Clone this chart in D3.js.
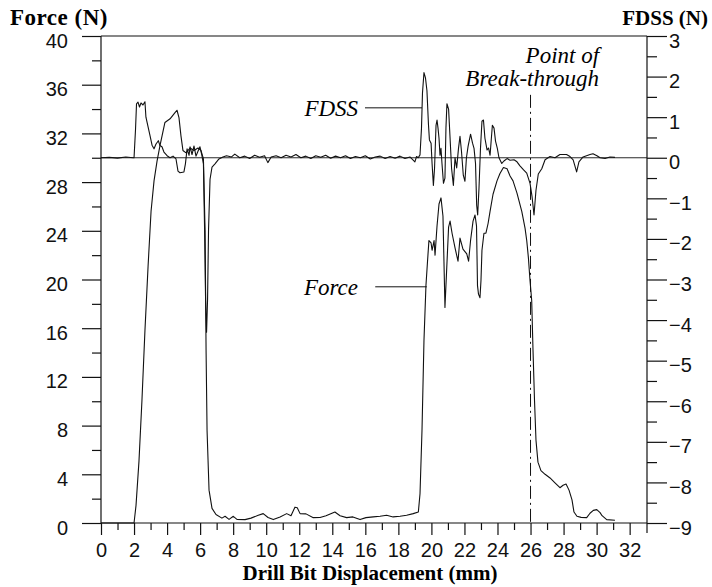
<!DOCTYPE html>
<html>
<head>
<meta charset="utf-8">
<script src="https://cdn.jsdelivr.net/npm/d3@7"></script>
<style>
  body { margin: 0; background: #fff; }
  .num { font-family: "Liberation Sans", Arial, sans-serif; font-size: 20px; }
  .ttl { font-family: "Liberation Serif", "Times New Roman", serif; font-weight: bold; font-size: 21px; }
  .note { font-family: "Liberation Serif", "Times New Roman", serif; font-style: italic; font-size: 23px; }
</style>
</head>
<body>
<div id="container"></div>
<script>
//Force (N) against drill bit displacement (mm)
const forceData = [
  [0, 0], [2.0, 0], [2.12, 1.45], [2.3, 5.1], [2.48, 10.1], [2.66, 15.8], [2.85, 21.1],
  [3.03, 25.6], [3.21, 28.1], [3.39, 29.7], [3.57, 31.0], [3.87, 32.9], [4.18, 33.2],
  [4.48, 33.7], [4.6, 33.9], [4.72, 33.3], [4.84, 31.8], [4.96, 30.6], [5.15, 30.4],
  [5.39, 30.8], [5.63, 30.6], [5.87, 30.8], [6.05, 30.6], [6.2, 29.9], [6.3, 24.0],
  [6.36, 14.2], [6.42, 7.6], [6.54, 2.7], [6.72, 1.2], [6.96, 0.7], [7.32, 0.4],
  [7.51, 0.55], [7.75, 0.3], [8.01, 0.55], [8.23, 0.3], [8.72, 0.28], [9.08, 0.4],
  [9.52, 0.63], [9.82, 0.77], [10.11, 0.45], [10.43, 0.28], [10.84, 0.5], [11.24, 0.77],
  [11.5, 0.6], [11.74, 1.3], [11.88, 1.25], [12.05, 0.77], [12.41, 0.75], [12.85, 0.44],
  [13.26, 0.45], [13.62, 0.6], [14.16, 0.9], [14.47, 0.6], [14.87, 0.44], [15.25, 0.5],
  [15.68, 0.28], [16.04, 0.44], [16.48, 0.5], [16.89, 0.55], [17.29, 0.63], [17.68, 0.5],
  [18.1, 0.55], [18.5, 0.63], [18.9, 0.77], [19.21, 0.9], [19.31, 2.4], [19.43, 7.6],
  [19.55, 15.0], [19.67, 19.5], [19.76, 21.4], [19.85, 23.2], [19.98, 23.0], [20.04, 22.4],
  [20.16, 23.2], [20.22, 22.0], [20.34, 24.4], [20.46, 26.2], [20.58, 26.7], [20.7, 25.2],
  [20.82, 17.7], [20.93, 21.0], [21.04, 24.3], [21.13, 24.8], [21.25, 23.8], [21.43, 22.6],
  [21.61, 21.5], [21.73, 23.4], [21.91, 22.5], [22.14, 22.1], [22.25, 21.5], [22.37, 23.2],
  [22.52, 24.8], [22.64, 25.3], [22.73, 24.4], [22.79, 19.5], [22.85, 18.8], [22.94, 18.5],
  [23.0, 19.9], [23.06, 22.4], [23.18, 23.8], [23.3, 23.8], [23.43, 24.6], [23.55, 25.6],
  [23.73, 27.0], [23.97, 28.1], [24.15, 28.7], [24.36, 29.2], [24.58, 29.1], [24.76, 28.5],
  [24.94, 28.1], [25.18, 27.1], [25.47, 25.6], [25.67, 24.2], [25.77, 23.2], [25.87, 21.8],
  [25.97, 19.9], [26.07, 18.3], [26.15, 14.2], [26.24, 10.1], [26.33, 6.8], [26.45, 5.0],
  [26.63, 4.3], [26.88, 4.0], [27.18, 3.7], [27.48, 3.3], [27.78, 2.9], [27.97, 3.1],
  [28.15, 3.2], [28.33, 2.7], [28.51, 1.9], [28.63, 0.9], [28.81, 0.55], [29.06, 0.46],
  [29.4, 0.44], [29.6, 0.8], [29.8, 1.04], [30.01, 1.1], [30.21, 0.85], [30.33, 0.6],
  [30.61, 0.28], [31.11, 0.22]
];

//FDSS (N) against drill bit displacement (mm)
const fdssData = [
  [0, 0], [0.5, 0.01], [1.0, -0.01], [1.5, 0.02], [1.95, 0], [2.0, 0], [2.09, 0.7],
  [2.15, 1.33], [2.24, 1.37], [2.33, 1.25], [2.42, 1.35], [2.54, 1.3], [2.66, 1.38],
  [2.72, 1.0], [2.85, 0.76], [2.97, 0.54], [3.09, 0.31], [3.21, 0.22], [3.33, 0.34],
  [3.47, 0.42], [3.57, 0.3], [3.69, 0.27], [3.81, 0.14], [4.0, 0.05], [4.18, 0],
  [4.36, 0.04], [4.54, -0.03], [4.66, -0.33], [4.78, -0.37], [5.02, -0.35], [5.11, -0.15],
  [5.21, 0.22], [5.33, 0.06], [5.39, 0.27], [5.51, 0.08], [5.63, 0.29], [5.75, 0.04],
  [5.87, 0.16], [5.99, 0.27], [6.11, 0.05], [6.2, -0.15], [6.27, -1.76], [6.33, -3.5],
  [6.39, -4.3], [6.45, -3.5], [6.51, -1.76], [6.6, -0.53], [6.72, -0.23], [6.9, -0.15],
  [7.14, -0.03], [7.38, 0.02], [7.6, 0.05], [7.9, 0.02], [8.1, 0.09], [8.4, 0.0],
  [8.7, 0.04], [9.0, -0.02], [9.3, 0.06], [9.6, 0.01], [9.9, 0.05], [10.1, -0.12],
  [10.3, 0.02], [10.6, 0.05], [10.9, 0.0], [11.2, 0.06], [11.5, 0.02], [11.8, 0.08],
  [12.1, 0.0], [12.4, 0.04], [12.7, -0.02], [13.0, 0.05], [13.3, 0.01], [13.6, 0.06],
  [13.9, -0.01], [14.2, 0.04], [14.5, 0.0], [14.8, 0.05], [15.1, -0.02], [15.4, 0.03],
  [15.7, 0.0], [16.0, 0.05], [16.3, -0.03], [16.6, 0.02], [16.9, 0.04], [17.2, -0.02],
  [17.5, 0.03], [17.8, -0.01], [18.1, 0.04], [18.4, -0.02], [18.7, 0.02], [19.0, -0.1],
  [19.1, 0.03], [19.2, 0.0], [19.31, 0.07], [19.4, 0.73], [19.46, 1.6], [19.55, 2.1],
  [19.64, 1.97], [19.73, 1.65], [19.82, 0.83], [19.88, 0.44], [19.98, 0.36], [20.04, -0.14],
  [20.12, -0.68], [20.19, -0.26], [20.28, 0.8], [20.34, 0.93], [20.4, 0.73], [20.46, 0.48],
  [20.52, 0.06], [20.58, 0.23], [20.64, -0.14], [20.73, -0.63], [20.82, -0.5], [20.88, 0.73],
  [20.94, 1.33], [21.04, 1.2], [21.13, 0.48], [21.22, -0.26], [21.33, -0.68], [21.43, 0],
  [21.53, -0.25], [21.64, 0.23], [21.73, 0.53], [21.82, 0.16], [21.93, -0.43], [22.03, -0.58],
  [22.12, 0], [22.22, 0.28], [22.37, 0.58], [22.49, 0.36], [22.58, 0.23], [22.67, -0.14],
  [22.74, -1.17], [22.8, -1.41], [22.88, -0.75], [22.97, 0.23], [23.06, 0.9], [23.15, 0.93],
  [23.24, 0.48], [23.37, 0.19], [23.46, 0.24], [23.55, 0.06], [23.69, 0.8], [23.79, 0.73],
  [23.88, 0.41], [23.99, 0.23], [24.09, 0.0], [24.26, -0.14], [24.39, -0.08], [24.58, -0.02],
  [24.76, -0.06], [25.0, -0.05], [25.18, -0.1], [25.36, -0.2], [25.58, -0.3], [25.77, -0.38],
  [25.97, -0.63], [26.09, -0.95], [26.21, -1.41], [26.33, -0.8], [26.47, -0.4], [26.68, -0.27],
  [26.88, -0.05], [27.18, 0.03], [27.48, 0.0], [27.78, 0.08], [28.18, 0.08], [28.39, 0.03],
  [28.58, -0.05], [28.79, -0.35], [28.93, -0.1], [29.18, 0.02], [29.6, 0.08], [29.78, 0.1],
  [30.02, 0.05], [30.21, 0.0], [30.51, -0.02], [30.81, 0.02], [31.11, 0.01]
];

//Ticks
const xTicks = d3.range(0, 33, 2);
const xMinor = d3.range(1, 33, 2);
const forceTicks = d3.range(0, 41, 4);
const forceMinor = d3.range(2, 40, 4);
const fdssTicks = d3.range(-9, 4, 1);
const fdssMinor = d3.range(-8.5, 3, 1);
const breakThrough = 26;

const width = 712;
const height = 587;
const svg = d3.select('#container').append('svg')
    .attr('width', width)
    .attr('height', height)
    .style('background-color', 'white');

const x = d3.scaleLinear().domain([0, 33.05]).range([101, 647]);
const yF = d3.scaleLinear().domain([0, 40]).range([523, 36]);
const yD = d3.scaleLinear().domain([-9, 3]).range([523, 36]);

const ink = '#111';

//style an axis group the same way each time
function styleAxis(g, dy) {
    g.select('.domain').remove();
    g.selectAll('line').attr('stroke', ink).attr('stroke-width', 1.2);
    g.attr('font-family', null).attr('font-size', null);
    g.selectAll('text').attr('class', 'num').attr('fill', ink).attr('dy', dy);
}

//Left axis (Force)
svg.append('g')
    .attr('transform', `translate(${x(0)},0)`)
    .call(d3.axisLeft(yF).tickValues(forceTicks).tickSize(19).tickPadding(14))
    .call(g => styleAxis(g, '0.55em'));
svg.append('g')
    .attr('transform', `translate(${x(0)},0)`)
    .call(d3.axisLeft(yF).tickValues(forceMinor).tickSize(9).tickFormat(''))
    .call(g => styleAxis(g, 0));

//Right axis (FDSS)
svg.append('g')
    .attr('transform', `translate(${x.range()[1]},0)`)
    .call(d3.axisRight(yD).tickValues(fdssTicks).tickSize(20).tickPadding(2))
    .call(g => styleAxis(g, '0.55em'));
svg.append('g')
    .attr('transform', `translate(${x.range()[1]},0)`)
    .call(d3.axisRight(yD).tickValues(fdssMinor).tickSize(10).tickFormat(''))
    .call(g => styleAxis(g, 0));

//Bottom axis
svg.append('g')
    .attr('transform', `translate(0,${yF(0)})`)
    .call(d3.axisBottom(x).tickValues(xTicks).tickSize(12).tickPadding(8))
    .call(g => styleAxis(g, '0.72em'));
svg.append('g')
    .attr('transform', `translate(0,${yF(0)})`)
    .call(d3.axisBottom(x).tickValues(xMinor).tickSize(7).tickFormat(''))
    .call(g => styleAxis(g, 0));

//Frame
const frame = svg.append('g').attr('stroke', ink).attr('stroke-width', 1.2);
frame.append('line')
    .attr('x1', x.range()[0]).attr('x2', x.range()[1])
    .attr('y1', yF(40)).attr('y2', yF(40));
frame.append('line')
    .attr('x1', x.range()[0]).attr('x2', x.range()[1])
    .attr('y1', yF(0)).attr('y2', yF(0));
frame.append('line')
    .attr('x1', x.range()[0]).attr('x2', x.range()[0])
    .attr('y1', yF(40)).attr('y2', yF(0));
frame.append('line')
    .attr('x1', x.range()[1]).attr('x2', x.range()[1])
    .attr('y1', yD(3)).attr('y2', yD(-9) + 10);

//FDSS zero line
svg.append('line')
    .attr('x1', x.range()[0]).attr('x2', x.range()[1])
    .attr('y1', yD(0)).attr('y2', yD(0))
    .attr('stroke', ink).attr('stroke-width', 0.9);

//Point of break-through
svg.append('line')
    .attr('x1', x(breakThrough)).attr('x2', x(breakThrough))
    .attr('y1', yD(1.55)).attr('y2', yF(0))
    .attr('stroke', ink).attr('stroke-width', 1)
    .attr('stroke-dasharray', '13,4,2,4');

//Curves
const forceLine = d3.line().x(d => x(d[0])).y(d => yF(d[1]));
const fdssLine = d3.line().x(d => x(d[0])).y(d => yD(d[1]));

svg.append('path')
    .datum(forceData)
    .attr('d', forceLine)
    .attr('fill', 'none').attr('stroke', ink).attr('stroke-width', 1.1)
    .attr('stroke-linejoin', 'round');

svg.append('path')
    .datum(fdssData)
    .attr('d', fdssLine)
    .attr('fill', 'none').attr('stroke', ink).attr('stroke-width', 1.1)
    .attr('stroke-linejoin', 'round');

//Annotations
svg.append('text').attr('class', 'note')
    .attr('x', x(15.56)).attr('y', yD(1.23) + 8)
    .attr('text-anchor', 'end').text('FDSS');
svg.append('line')
    .attr('x1', x(15.98)).attr('x2', x(19.43))
    .attr('y1', yD(1.23)).attr('y2', yD(1.23))
    .attr('stroke', ink).attr('stroke-width', 1);

svg.append('text').attr('class', 'note')
    .attr('x', x(15.56)).attr('y', yF(19.4) + 8)
    .attr('text-anchor', 'end').text('Force');
svg.append('line')
    .attr('x1', x(16.6)).attr('x2', x(19.72))
    .attr('y1', yF(19.4)).attr('y2', yF(19.4))
    .attr('stroke', ink).attr('stroke-width', 1);

svg.append('text').attr('class', 'note')
    .attr('x', x(30.15)).attr('y', 63)
    .attr('text-anchor', 'end').text('Point of');
svg.append('text').attr('class', 'note')
    .attr('x', x(30.15)).attr('y', 86)
    .attr('text-anchor', 'end').text('Break-through');

//Axis titles
svg.append('text').attr('class', 'ttl')
    .attr('x', 10).attr('y', 25)
    .style('font-size', '23px').style('letter-spacing', '0.5px')
    .text('Force (N)');
svg.append('text').attr('class', 'ttl')
    .attr('x', 708).attr('y', 25).attr('text-anchor', 'end').text('FDSS (N)');
svg.append('text').attr('class', 'ttl')
    .attr('x', 370).attr('y', 580).attr('text-anchor', 'middle')
    .text('Drill Bit Displacement (mm)');
</script>
</body>
</html>
